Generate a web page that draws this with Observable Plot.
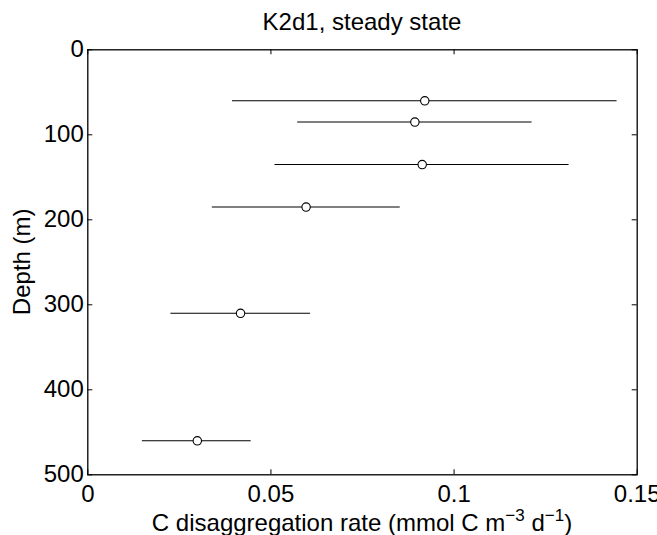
<!DOCTYPE html>
<html>
<head>
<meta charset="utf-8">
<script src="https://cdn.jsdelivr.net/npm/d3@7"></script>
<script src="https://cdn.jsdelivr.net/npm/@observablehq/plot@0.6"></script>
<style>
  html, body { margin: 0; padding: 0; background: white; }
  #chart { width: 657px; height: 535px; overflow: hidden; }
</style>
</head>
<body>
<div id="chart"></div>
<script>
const titleText = "K2d1, steady state";
const depth    = [60, 85, 135, 185, 310, 460];
const rate     = [0.0920, 0.0893, 0.0913, 0.0596, 0.0417, 0.0299];
const rateLow  = [0.0395, 0.0573, 0.0511, 0.0340, 0.0227, 0.0149];
const rateHigh = [0.1445, 0.1213, 0.1314, 0.0853, 0.0608, 0.0446];
const xTicks = [0, 0.05, 0.1, 0.15];
const xTickLabels = ["0", "0.05", "0.1", "0.15"];
const yTicks = [0, 100, 200, 300, 400, 500];
const yTickLabels = ["0", "100", "200", "300", "400", "500"];

const rows = depth.map((d, i) => ({depth: d, rate: rate[i], lo: rateLow[i], hi: rateHigh[i]}));

const W = 657, H = 535;
const mL = 87.3, mR = 20.3, mT = 49.3, mB = 60.7;
const plotW = W - mL - mR, plotH = H - mT - mB;
const tick = 5;
const font = "'Liberation Sans', Arial, Helvetica, sans-serif";

const chart = Plot.plot({
  width: W, height: H,
  marginLeft: mL, marginRight: mR, marginTop: mT, marginBottom: mB,
  style: {fontFamily: font, fontSize: "24px", background: "white", color: "black"},
  x: {domain: [0, 0.15], axis: null},
  y: {domain: [0, 500], reverse: true, axis: null},
  marks: [
    Plot.ruleY(rows, {y: "depth", x1: "lo", x2: "hi", stroke: "black", strokeWidth: 1.1}),
    Plot.dot(rows, {x: "rate", y: "depth", r: 4.2, stroke: "black", fill: "white", strokeWidth: 1.1}),
    Plot.tickX(xTicks, {x: d => d, insetTop: plotH - tick, stroke: "black"}),
    Plot.tickX(xTicks, {x: d => d, insetBottom: plotH - tick, stroke: "black"}),
    Plot.tickY(yTicks, {y: d => d, insetRight: plotW - tick, stroke: "black"}),
    Plot.tickY(yTicks, {y: d => d, insetLeft: plotW - tick, stroke: "black"}),
    Plot.frame({stroke: "black", strokeWidth: 1.3}),
    Plot.axisX(xTicks, {tickSize: 0, tickPadding: 10, fontSize: 24, label: null,
      tickFormat: d => xTickLabels[xTicks.indexOf(d)]}),
    Plot.axisY(yTicks, {tickSize: 0, tickPadding: 4, fontSize: 24, label: null,
      tickFormat: d => yTickLabels[yTicks.indexOf(d)]})
  ]
});

const svg = d3.select(chart);
svg.append("text")
  .attr("x", mL + plotW / 2).attr("y", 30)
  .attr("text-anchor", "middle")
  .attr("font-family", font).attr("font-size", 24).attr("fill", "black")
  .text(titleText);

svg.append("text")
  .attr("transform", `translate(30,${mT + plotH / 2}) rotate(-90)`)
  .attr("text-anchor", "middle")
  .attr("font-family", font).attr("font-size", 24).attr("fill", "black")
  .text("Depth (m)");

const xl = svg.append("text")
  .attr("x", mL + plotW / 2).attr("y", 531)
  .attr("text-anchor", "middle")
  .attr("font-family", font).attr("font-size", 24).attr("fill", "black");
xl.append("tspan").text("C disaggregation rate (mmol C m");
xl.append("tspan").attr("font-size", 17).attr("dy", -10).text("\u22123");
xl.append("tspan").attr("dy", 10).text(" d");
xl.append("tspan").attr("font-size", 17).attr("dy", -10).text("\u22121");
xl.append("tspan").attr("dy", 10).text(")");

document.getElementById("chart").appendChild(chart);
</script>
</body>
</html>
